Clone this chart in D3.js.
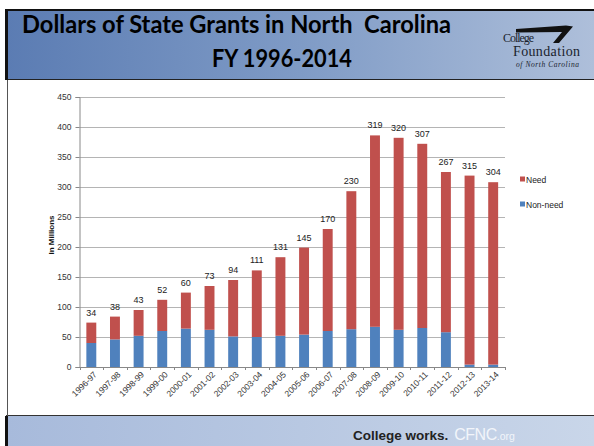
<!DOCTYPE html>
<html><head><meta charset="utf-8">
<script src="https://cdn.jsdelivr.net/npm/d3@7"></script>
<style>
html,body{margin:0;padding:0;background:#fff;}
svg{display:block;}
</style></head>
<body>
<script>
const categories = ["1996-97","1997-98","1998-99","1999-00","2000-01","2001-02","2002-03","2003-04","2004-05","2005-06","2006-07","2007-08","2008-09","2009-10","2010-11","2011-12","2012-13","2013-14"];
const nonNeed = [40,46,52,60,64,62,51,50,52,54,60,63,67,62,65,58,4,4];
const need = [34,38,43,52,60,73,94,111,131,145,170,230,319,320,307,267,315,304];
const yTicks = [0,50,100,150,200,250,300,350,400,450];
const seriesNames = ["Need","Non-need"];
const colors = {"Need":"#c0504d","Non-need":"#4f81bd"};

const W = 594, H = 446;
const svg = d3.select("body").append("svg").attr("width", W).attr("height", H);
const defs = svg.append("defs");
const g1 = defs.append("linearGradient").attr("id","hdr").attr("x1","0").attr("x2","1").attr("y1","0").attr("y2","0");
g1.append("stop").attr("offset","0").attr("stop-color","#5b7cb3");
g1.append("stop").attr("offset","0.5").attr("stop-color","#7f9bc6");
g1.append("stop").attr("offset","1").attr("stop-color","#aebfda");
const g2 = defs.append("linearGradient").attr("id","ftr").attr("x1","0").attr("x2","1").attr("y1","0").attr("y2","0");
g2.append("stop").attr("offset","0").attr("stop-color","#a7badb");
g2.append("stop").attr("offset","1").attr("stop-color","#c9d6e9");

// header band
svg.append("rect").attr("x",7).attr("y",10).attr("width",W-7).attr("height",70).attr("fill","url(#hdr)");
svg.append("line").attr("x1",6).attr("x2",W).attr("y1",10).attr("y2",10).attr("stroke","#111").attr("stroke-width",2);
svg.append("line").attr("x1",6).attr("x2",W).attr("y1",79.5).attr("y2",79.5).attr("stroke","#222").attr("stroke-width",1.2);
// footer band
svg.append("rect").attr("x",7).attr("y",416).attr("width",W-7).attr("height",30).attr("fill","url(#ftr)");
svg.append("line").attr("x1",6).attr("x2",W).attr("y1",415.5).attr("y2",415.5).attr("stroke","#333").attr("stroke-width",1);
// left border
svg.append("line").attr("x1",6.5).attr("x2",6.5).attr("y1",9).attr("y2",80).attr("stroke","#111").attr("stroke-width",3);
svg.append("line").attr("x1",7.5).attr("x2",7.5).attr("y1",80).attr("y2",416).attr("stroke","#555").attr("stroke-width",1);
svg.append("line").attr("x1",6.5).attr("x2",6.5).attr("y1",416).attr("y2",446).attr("stroke","#111").attr("stroke-width",3);

// title
svg.append("text").attr("x",22).attr("y",33).attr("font-family","Lato, 'Open Sans', sans-serif").attr("font-weight","bold")
  .style("white-space","pre")
  .attr("font-size",25.5).attr("fill","#000").attr("textLength",429).attr("lengthAdjust","spacingAndGlyphs")
  .text("Dollars of State Grants in North  Carolina");
svg.append("text").attr("x",212).attr("y",67).attr("font-family","Lato, 'Open Sans', sans-serif").attr("font-weight","bold")
  .attr("font-size",25.5).attr("fill","#000").attr("textLength",140).attr("lengthAdjust","spacingAndGlyphs").text("FY 1996-2014");

// logo
svg.append("path").attr("d","M516,29 L566,25.5 L573,26.5 L559,43 L553,43 L562,32 L516,32.5 Z").attr("fill","#111");
svg.append("text").attr("x",503).attr("y",42).attr("font-family","'Liberation Serif', serif").attr("font-size",12).attr("fill","#1a1f2e").attr("textLength",31).text("College");
svg.append("text").attr("x",513).attr("y",56).attr("font-family","'Liberation Serif', serif").attr("font-size",14).attr("fill","#1a1f2e").attr("textLength",67).text("Foundation");
svg.append("text").attr("x",516).attr("y",67).attr("font-family","'Liberation Serif', serif").attr("font-style","italic").attr("font-size",7.5).attr("fill","#1a1f2e").attr("textLength",63).text("of North Carolina");

// footer text
const ft = svg.append("text").attr("y",440).attr("font-family","'Liberation Sans', Arial, sans-serif");
ft.append("tspan").attr("x",353).attr("font-weight","bold").attr("font-size",13.5).attr("fill","#222").text("College works.");
ft.append("tspan").attr("dx",6).attr("font-size",16).attr("fill","#f2f5fa").attr("letter-spacing",-0.5).text("CFNC");
ft.append("tspan").attr("font-size",10.5).attr("fill","#f2f5fa").text(".org");

// chart
const x0 = 79.5, x1 = 505, yB = 367, yT = 97;
const x = d3.scaleBand().domain(categories).range([x0, x1]).paddingInner(0.58).paddingOuter(0.29);
const y = d3.scaleLinear().domain([0, 450]).range([yB, yT]);
const font = "'Liberation Sans', Arial, sans-serif";

// gridlines
svg.append("g").selectAll("line").data(yTicks.filter(d=>d>0)).join("line")
  .attr("x1",x0).attr("x2",x1).attr("y1",d=>Math.round(y(d))+0.5).attr("y2",d=>Math.round(y(d))+0.5)
  .attr("stroke","#b4b4b4").attr("stroke-width",1);

// y axis
const yAxis = svg.append("g").attr("transform",`translate(${x0},0)`)
  .call(d3.axisLeft(y).tickValues(yTicks).tickSize(4).tickPadding(4).tickFormat(d3.format("d")));
yAxis.select(".domain").attr("stroke","#888");
yAxis.selectAll(".tick line").attr("stroke","#888");
yAxis.selectAll(".tick text").attr("font-family",font).attr("font-size",8.5).attr("fill","#333");

// stacked bars
const stackData = categories.map((c,i)=>({cat:c, "Non-need":nonNeed[i], "Need":need[i]}));
const stack = d3.stack().keys(["Non-need","Need"])(stackData);
svg.append("g").selectAll("g").data(stack).join("g").attr("fill",d=>colors[d.key])
  .selectAll("rect").data(d=>d).join("rect")
  .attr("x",d=>x(d.data.cat)).attr("width",x.bandwidth())
  .attr("y",d=>y(d[1])).attr("height",d=>y(d[0])-y(d[1]));

// value labels (Need)
svg.append("g").selectAll("text").data(stackData).join("text")
  .attr("x",d=>x(d.cat)+x.bandwidth()/2).attr("y",d=>y(d["Non-need"]+d["Need"])-7)
  .attr("text-anchor","middle").attr("font-family",font).attr("font-size",9).attr("fill","#222")
  .text(d=>d["Need"]);

// x axis
const step = x.step();
const xAxis = svg.append("g").attr("transform",`translate(0,${yB})`)
  .call(d3.axisBottom(x).tickSize(0).tickPadding(0));
xAxis.select(".domain").attr("stroke","#888");
xAxis.selectAll(".tick text").attr("font-family",font).attr("font-size",8.5).attr("fill","#333")
  .attr("text-anchor","end").attr("transform","translate(4,6) rotate(-45)").attr("dy","0.35em");
const bounds = categories.map((c,i)=>x0 + i*step).concat([x1]);
svg.append("g").selectAll("line").data(bounds).join("line")
  .attr("x1",d=>Math.round(d)+0.5).attr("x2",d=>Math.round(d)+0.5).attr("y1",yB).attr("y2",yB+3)
  .attr("stroke","#888");

// y title
svg.append("text").attr("transform","translate(54,235) rotate(-90)").attr("text-anchor","middle")
  .attr("font-family",font).attr("font-weight","bold").attr("font-size",8).attr("fill","#111").text("In Millions");

// legend
const leg = svg.append("g").selectAll("g").data(seriesNames).join("g")
  .attr("transform",(d,i)=>`translate(520,${180 + i*25})`);
leg.append("rect").attr("x",0).attr("y",-3.5).attr("width",5).attr("height",5).attr("fill",d=>colors[d]);
leg.append("text").attr("x",6).attr("y",0).attr("dy","0.35em").attr("font-family",font).attr("font-size",8.5).attr("fill","#222").text(d=>d);
</script>
</body></html>
